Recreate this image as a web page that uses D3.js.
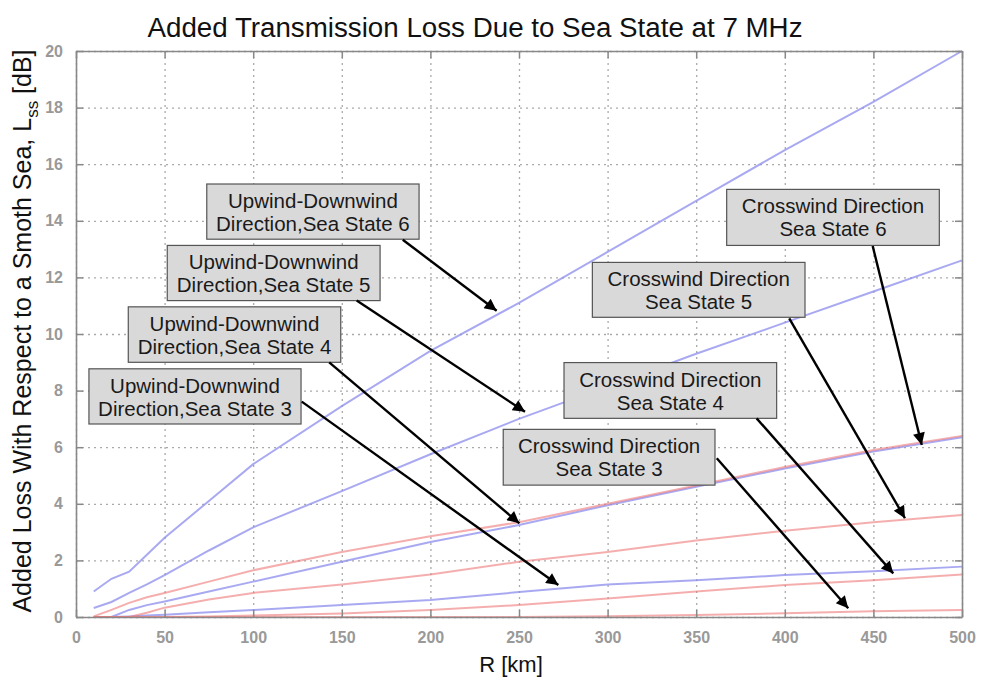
<!DOCTYPE html>
<html>
<head>
<meta charset="utf-8">
<script src="https://cdn.jsdelivr.net/npm/d3@7"></script>
<style>
  html, body { margin: 0; padding: 0; background: #fff; }
  svg { display: block; font-family: "Liberation Sans", Arial, sans-serif; }
</style>
</head>
<body>
<svg id="chart" width="983" height="679"></svg>
<script>
// ---------- data ----------
const rKm = [10, 20, 30, 40, 50, 75, 100, 150, 200, 250, 300, 350, 400, 450, 500];
const upwindSS6 = [0.9, 1.35, 1.6, 2.2, 2.8, 4.1, 5.4, 7.45, 9.4, 11.1, 12.9, 14.7, 16.5, 18.2, 20.0];
const upwindSS5 = [0.32, 0.53, 0.85, 1.15, 1.48, 2.35, 3.17, 4.45, 5.75, 7.0, 8.15, 9.3, 10.4, 11.5, 12.6];
const upwindSS4 = [0, 0, 0.25, 0.42, 0.55, 0.9, 1.25, 1.95, 2.65, 3.25, 3.95, 4.6, 5.25, 5.85, 6.35];
const upwindSS3 = [0, 0, 0.02, 0.05, 0.08, 0.17, 0.25, 0.42, 0.6, 0.88, 1.15, 1.3, 1.48, 1.62, 1.78];
const crossSS6 = [0.02, 0.25, 0.5, 0.7, 0.85, 1.25, 1.65, 2.3, 2.85, 3.35, 4.0, 4.65, 5.3, 5.9, 6.4];
const crossSS5 = [0, 0, 0, 0.15, 0.33, 0.62, 0.85, 1.15, 1.5, 1.95, 2.3, 2.7, 3.05, 3.35, 3.6];
const crossSS4 = [0, 0, 0, 0, 0, 0.02, 0.05, 0.12, 0.25, 0.42, 0.65, 0.9, 1.13, 1.3, 1.5];
const crossSS3 = [0, 0, 0, 0, 0, 0, 0, 0, 0, 0, 0.03, 0.07, 0.13, 0.2, 0.25];

const xTicks = [0, 50, 100, 150, 200, 250, 300, 350, 400, 450, 500];
const yTicks = [0, 2, 4, 6, 8, 10, 12, 14, 16, 18, 20];

const titleText = "Added Transmission Loss Due to Sea State at 7 MHz";
const xLabel = "R [km]";

// annotation labels: box corners, arrow start and arrow tip in data units (km, dB)
const annLines = [
  ["Upwind-Downwind", "Direction,Sea State 6"],
  ["Upwind-Downwind", "Direction,Sea State 5"],
  ["Upwind-Downwind", "Direction,Sea State 4"],
  ["Upwind-Downwind", "Direction,Sea State 3"],
  ["Crosswind Direction", "Sea State 6"],
  ["Crosswind Direction", "Sea State 5"],
  ["Crosswind Direction", "Sea State 4"],
  ["Crosswind Direction", "Sea State 3"]
];
const annBox = [ // [r0, r1, dbTop, dbBottom]
  [73.8, 193.6, 15.30, 13.35],
  [51.5, 171.6, 13.13, 11.18],
  [29.5, 149.4, 10.96, 9.00],
  [7.3, 127.0, 8.77, 6.82],
  [367.2, 487.2, 15.11, 13.13],
  [291.4, 411.4, 12.53, 10.59],
  [275.4, 395.4, 8.99, 7.02],
  [241.1, 360.6, 6.63, 4.66]
];
const annFrom = [[184.4, 13.33], [158.4, 11.18], [142.9, 9.0], [127.4, 7.61],
                 [449.6, 13.11], [402.5, 10.55], [384.1, 7.02], [361.6, 5.61]];
const annTo = [[237.4, 10.82], [253.4, 7.25], [250.2, 3.31], [272.2, 1.13],
               [477.3, 6.08], [467.8, 3.49], [461.2, 1.54], [435.8, 0.31]];

// ---------- layout ----------
const svg = d3.select("#chart");
const plot = { left: 76, right: 962, top: 51, bottom: 617 };

const x = d3.scaleLinear().domain([0, 500]).range([plot.left, plot.right]);
const y = d3.scaleLinear().domain([0, 20]).range([plot.bottom, plot.top]);

const BLUE = "rgba(140,140,238,0.75)";
const RED = "rgba(238,120,120,0.6)";

const series = [
  { v: upwindSS6, c: BLUE }, { v: upwindSS5, c: BLUE },
  { v: upwindSS4, c: BLUE }, { v: upwindSS3, c: BLUE },
  { v: crossSS6, c: RED }, { v: crossSS5, c: RED },
  { v: crossSS4, c: RED }, { v: crossSS3, c: RED }
];

// grid
const grid = svg.append("g");
grid.append("g")
  .attr("transform", `translate(0,${plot.bottom})`)
  .call(d3.axisBottom(x).tickValues(xTicks).tickSize(-(plot.bottom - plot.top)).tickFormat(""))
  .call(g => g.select(".domain").remove())
  .call(g => g.selectAll("line").attr("stroke", "#aaa").attr("stroke-width", 1.3).attr("stroke-dasharray", "2,4"));
grid.append("g")
  .attr("transform", `translate(${plot.left},0)`)
  .call(d3.axisLeft(y).tickValues(yTicks).tickSize(-(plot.right - plot.left)).tickFormat(""))
  .call(g => g.select(".domain").remove())
  .call(g => g.selectAll("line").attr("stroke", "#aaa").attr("stroke-width", 1.3).attr("stroke-dasharray", "2,4"));

// lines
const line = d3.line().x((d, i) => x(rKm[i])).y(d => y(d));
svg.append("g").selectAll("path").data(series).join("path")
  .attr("d", d => line(d.v))
  .attr("fill", "none")
  .attr("stroke", d => d.c)
  .attr("stroke-width", 2);

// axes with inward ticks (all four sides)
const axisStyle = g => {
  g.select(".domain").attr("stroke", "#888").attr("stroke-width", 1.6);
  g.selectAll(".tick line").attr("stroke", "#888").attr("stroke-width", 1.5);
  g.selectAll("text").attr("fill", "#999").attr("font-size", 16).attr("font-weight", "bold")
    .attr("font-family", "'Liberation Sans', Arial, sans-serif");
};
svg.append("g").attr("transform", `translate(0,${plot.bottom})`)
  .call(d3.axisBottom(x).tickValues(xTicks).tickSizeInner(-7).tickSizeOuter(0).tickPadding(15))
  .call(axisStyle);
svg.append("g").attr("transform", `translate(0,${plot.top})`)
  .call(d3.axisTop(x).tickValues(xTicks).tickSizeInner(-7).tickSizeOuter(0).tickFormat(""))
  .call(axisStyle);
svg.append("g").attr("transform", `translate(${plot.left},0)`)
  .call(d3.axisLeft(y).tickValues(yTicks).tickSizeInner(-7).tickSizeOuter(0).tickPadding(13))
  .call(axisStyle);
svg.append("g").attr("transform", `translate(${plot.right},0)`)
  .call(d3.axisRight(y).tickValues(yTicks).tickSizeInner(-7).tickSizeOuter(0).tickFormat(""))
  .call(axisStyle);

// title
svg.append("text")
  .attr("x", 475).attr("y", 37)
  .attr("text-anchor", "middle")
  .attr("font-size", 27)
  .attr("fill", "#111")
  .attr("textLength", 655).attr("lengthAdjust", "spacingAndGlyphs")
  .text(titleText);

// x label
svg.append("text")
  .attr("x", 511).attr("y", 672)
  .attr("text-anchor", "middle")
  .attr("font-size", 22)
  .attr("fill", "#111")
  .text(xLabel);

// y label
const yl = svg.append("text")
  .attr("transform", "translate(31,331) rotate(-90)")
  .attr("text-anchor", "middle")
  .attr("font-size", 25)
  .attr("fill", "#111");
yl.append("tspan").text("Added Loss With Respect to a Smoth Sea, L");
yl.append("tspan").attr("font-size", 17).attr("dy", 7).text("ss");
yl.append("tspan").attr("dy", -7).text(" [dB]");

// arrowhead marker
svg.append("defs").append("marker")
  .attr("id", "arrow")
  .attr("viewBox", "0 0 10 10")
  .attr("refX", 10).attr("refY", 5)
  .attr("markerWidth", 6.5).attr("markerHeight", 5)
  .attr("markerUnits", "strokeWidth")
  .attr("orient", "auto")
  .append("path").attr("d", "M0,0 L10,5 L0,10 Z").attr("fill", "#000");

// annotations
const ann = svg.append("g");
annLines.forEach((lines, i) => {
  const b = annBox[i];
  const x0 = x(b[0]), x1 = x(b[1]), y0 = y(b[2]), y1 = y(b[3]);
  const g = ann.append("g");
  g.append("rect")
    .attr("x", x0).attr("y", y0)
    .attr("width", x1 - x0).attr("height", y1 - y0)
    .attr("fill", "#d9d9d9").attr("stroke", "#555").attr("stroke-width", 1.2);
  const cx = (x0 + x1) / 2;
  lines.forEach((t, j) => {
    g.append("text")
      .attr("x", cx).attr("y", y0 + 24 + j * 23)
      .attr("text-anchor", "middle")
      .attr("font-size", 20.5)
      .attr("fill", "#1a1a1a")
      .text(t);
  });
  g.append("line")
    .attr("x1", x(annFrom[i][0])).attr("y1", y(annFrom[i][1]))
    .attr("x2", x(annTo[i][0])).attr("y2", y(annTo[i][1]))
    .attr("stroke", "#000").attr("stroke-width", 2.4)
    .attr("marker-end", "url(#arrow)");
});
</script>
</body>
</html>
